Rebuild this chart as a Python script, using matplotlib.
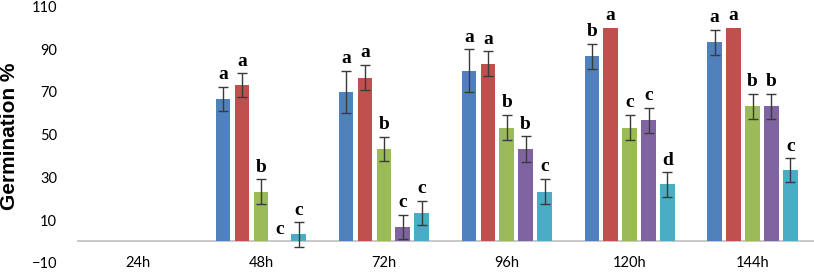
import matplotlib
matplotlib.use("Agg")
import matplotlib.pyplot as plt
import numpy as np

hours = ["24h", "48h", "72h", "96h", "120h", "144h"]
series_names = ["S1", "S2", "S3", "S4", "S5"]
colors = ["#4F81BD", "#C0504D", "#9BBB59", "#8064A2", "#4BACC6"]

# germination % per series, one value per time point
s1 = [0, 66.7, 70.0, 80.0, 86.7, 93.3]
s2 = [0, 73.3, 76.7, 83.3, 100.0, 100.0]
s3 = [0, 23.3, 43.3, 53.3, 53.3, 63.3]
s4 = [0, 0.0, 6.7, 43.3, 56.7, 63.3]
s5 = [0, 3.3, 13.3, 23.3, 26.7, 33.3]

e1 = [0, 5.8, 10.0, 10.0, 5.8, 5.8]
e2 = [0, 5.5, 6.0, 5.8, 0, 0]
e3 = [0, 5.7, 5.8, 6.0, 6.0, 5.8]
e4 = [0, 0, 5.8, 5.9, 6.0, 5.8]
e5 = [0, 5.7, 5.8, 6.0, 5.7, 5.7]

l1 = ["", "a", "a", "a", "b", "a"]
l2 = ["", "a", "a", "a", "a", "a"]
l3 = ["", "b", "b", "b", "c", "b"]
l4 = ["", "c", "c", "b", "c", "b"]
l5 = ["", "c", "c", "c", "d", "c"]

values = [s1, s2, s3, s4, s5]
errors = [e1, e2, e3, e4, e5]
letters = [l1, l2, l3, l4, l5]

fig = plt.figure(figsize=(8.14, 2.72), dpi=100)
ax = fig.add_axes([0.094, 0.034, 0.906, 0.942])

x = np.arange(len(hours))
pitch = 0.154
width = 0.118
for i, (vals, errs, labs) in enumerate(zip(values, errors, letters)):
    pos = x + (i - 2) * pitch
    ax.bar(pos, vals, width, color=colors[i], label=series_names[i], zorder=2)
    for px, v, e, lab in zip(pos, vals, errs, labs):
        if e > 0:
            ax.errorbar(px, v, yerr=e, fmt="none", ecolor="#3a3a3a",
                        elinewidth=1, capsize=3.5, capthick=1, zorder=3)
        if lab:
            ax.annotate(lab, (px, v + e), xytext=(0, 2.5), textcoords="offset points",
                        ha="center", va="bottom", fontsize=14, fontweight="bold",
                        family="Liberation Serif", color="black")

ax.axhline(0, color="#BFBFBF", lw=1.2, zorder=1)
ax.set_xlim(-0.5, len(hours) - 0.5)
ax.set_ylim(-10, 110)
ax.set_yticks(np.arange(-10, 111, 20))
ax.tick_params(axis="y", length=0, pad=14, labelsize=10.5)
ax.set_xticks([])
for xi, h in zip(x, hours):
    ax.text(xi, -10, h, ha="center", va="center", fontsize=10.5)
for lab in ax.get_yticklabels():
    lab.set_family("Lato")
for t in ax.texts:
    if t.get_text() in hours:
        t.set_family("Lato")
for s in ax.spines.values():
    s.set_visible(False)

fig.text(0.012, 0.50, "Germination %", rotation=90, ha="center", va="center",
         fontsize=15, fontweight="bold", family="Liberation Sans")

fig.savefig("out.png", dpi=100)
